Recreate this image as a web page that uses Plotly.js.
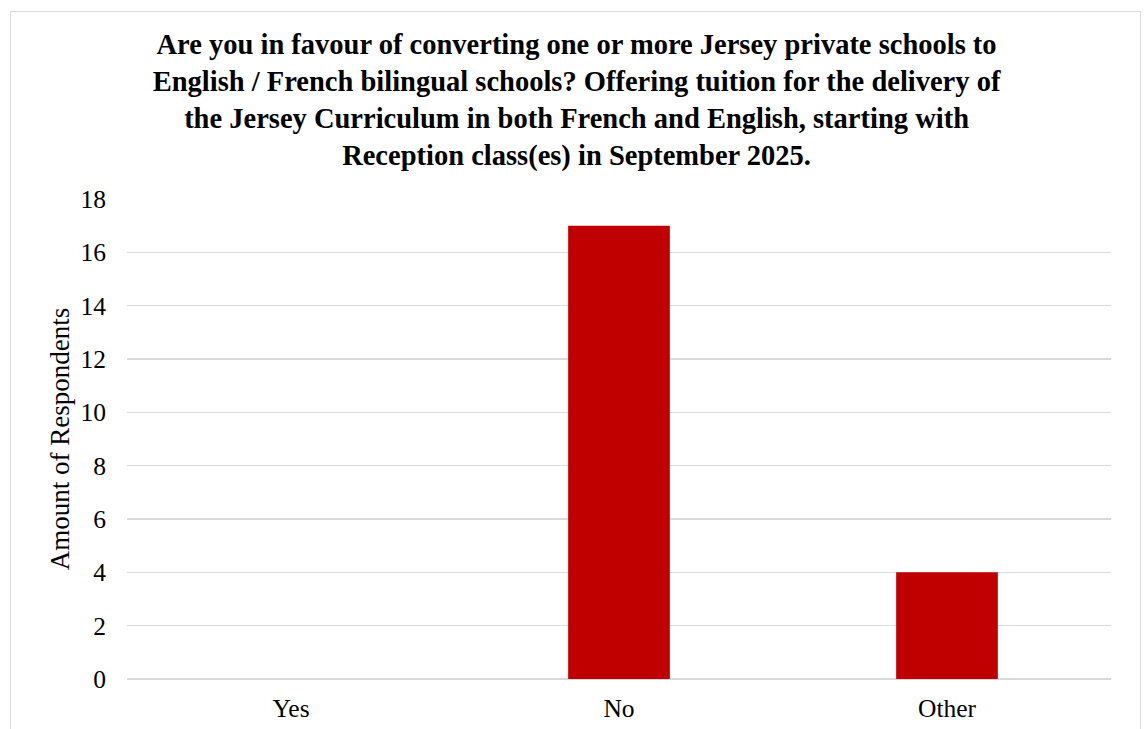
<!DOCTYPE html>
<html>
<head>
<meta charset="utf-8">
<script src="https://cdn.plot.ly/plotly-3.0.1.min.js"></script>
<style>
  html, body { margin: 0; padding: 0; background: #fff; }
  #wrap { position: relative; width: 1144px; height: 729px; }
  #chart { width: 1144px; height: 729px; }
  #frame { position: absolute; left: 10px; top: 11px; width: 1131px; height: 740px;
           border: 1.5px solid #d9d9d9; pointer-events: none; box-sizing: border-box; }
</style>
</head>
<body>
<div id="wrap">
  <div id="chart"></div>
  <div id="frame"></div>
</div>
<script>
const categories = ["Yes", "No", "Other"];
const respondents = [0, 17, 4];
const yTicks = [0, 2, 4, 6, 8, 10, 12, 14, 16, 18];
const titleText = "Are you in favour of converting one or more Jersey private schools to<br>English / French bilingual schools? Offering tuition for the delivery of<br>the Jersey Curriculum in both French and English, starting with<br>Reception class(es) in September 2025.";
const yTitle = "Amount of Respondents";

const font = "Liberation Serif, Times New Roman, serif";

Plotly.newPlot("chart", [{
  type: "bar",
  x: categories,
  y: respondents,
  marker: { color: "#C00000" },
  hoverinfo: "x+y"
}], {
  width: 1144, height: 729,
  margin: { l: 127, r: 33, t: 199, b: 50 },
  paper_bgcolor: "#fff", plot_bgcolor: "#fff",
  bargap: 0.69,
  showlegend: false,
  title: {
    text: "<b>" + titleText + "</b>",
    x: 0.504, xref: "container", xanchor: "center",
    y: 0.9266, yref: "container", yanchor: "top",
    font: { family: font, size: 28.5, color: "#000" }
  },
  xaxis: {
    tickfont: { family: font, size: 25.5, color: "#000" },
    showline: false, showgrid: false, zeroline: false,
    ticks: "", ticklabelstandoff: 11
  },
  yaxis: {
    range: [0, 18],
    tickvals: yTicks,
    ticktext: yTicks.map(String),
    tickfont: { family: font, size: 25.5, color: "#000" },
    showgrid: true, gridcolor: "#d9d9d9", gridwidth: 1.5,
    zeroline: true, zerolinecolor: "#d9d9d9", zerolinewidth: 1.5,
    showline: false, ticks: "", ticklabelstandoff: 20,
    title: { text: yTitle, font: { family: font, size: 27, color: "#000" }, standoff: 3 }
  }
}, { displayModeBar: false, staticPlot: true });
</script>
</body>
</html>
